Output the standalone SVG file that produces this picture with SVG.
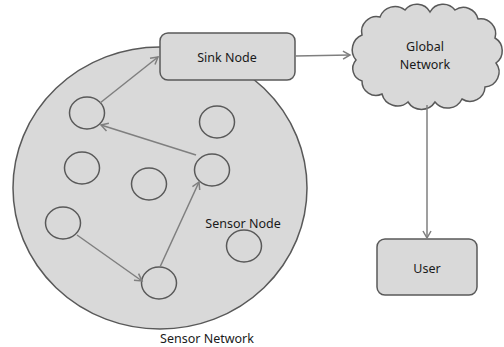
<svg xmlns="http://www.w3.org/2000/svg" width="504" height="347" viewBox="0 0 504 347">
<style>
.shape{fill:#d9d9d9;stroke:#595959;stroke-width:1.5}
.small{fill:none;stroke:#595959;stroke-width:1.5}
.lbl{font-family:"Noto Sans","Open Sans",sans-serif;font-size:12.5px;fill:#1a1a1a;text-anchor:middle;dominant-baseline:central}
.conn{fill:none;stroke:#7f7f7f;stroke-width:1.5;marker-end:url(#arr)}
</style>
<defs>
<marker id="arr" markerUnits="userSpaceOnUse" markerWidth="12" markerHeight="12" refX="8" refY="5" orient="auto">
<path d="M1,1 L8,5 L1,9" fill="none" stroke="#7f7f7f" stroke-width="1.5"/>
</marker>
</defs>
<rect width="504" height="347" fill="#ffffff"/>
<g id="sensor-network">
<ellipse class="shape" cx="160" cy="188" rx="147" ry="141"/>
<text class="lbl" x="207" y="338">Sensor Network</text>
</g>
<g id="sink-node">
<rect class="shape" x="160" y="33" width="135" height="47" rx="8"/>
<text class="lbl" x="227" y="57">Sink Node</text>
</g>
<g id="global-network">
<path class="shape" d="M356,60 A16,16 0 0 1 362,35 A15,15 0 0 1 380,17 A16,16 0 0 1 405,10 A15,15 0 0 1 430,12 A15,15 0 0 1 455,10 A15,15 0 0 1 478,19 A15,15 0 0 1 495,38 A15,15 0 0 1 496,63 A15,15 0 0 1 485,87 A15,15 0 0 1 462,99 A16,16 0 0 1 435,102 A16,16 0 0 1 408,102 A16,16 0 0 1 382,94 A14,14 0 0 1 362,81 A13,13 0 0 1 356,60 Z"/>
<text class="lbl" x="425" y="46">Global</text>
<text class="lbl" x="425" y="64">Network</text>
</g>
<g id="user">
<rect class="shape" x="377" y="239" width="100" height="56" rx="8"/>
<text class="lbl" x="427" y="268">User</text>
</g>
<g id="sensor-nodes">
<ellipse id="n1" class="small" cx="87" cy="113" rx="17.5" ry="16"/>
<ellipse id="n2" class="small" cx="217" cy="122" rx="17.5" ry="16"/>
<ellipse id="n3" class="small" cx="82" cy="168" rx="17.5" ry="16"/>
<ellipse id="n4" class="small" cx="149" cy="184" rx="17.5" ry="16"/>
<ellipse id="n5" class="small" cx="212" cy="170" rx="17.5" ry="16"/>
<ellipse id="n6" class="small" cx="63" cy="223" rx="17.5" ry="16"/>
<ellipse id="n7" class="small" cx="244" cy="246" rx="17.5" ry="16"/>
<ellipse id="n8" class="small" cx="159" cy="283" rx="17.5" ry="16"/>
<text class="lbl" x="243" y="223">Sensor Node</text>
</g>
<g id="connectors">
<line class="conn" x1="100" y1="103" x2="158" y2="57"/>
<line class="conn" x1="196" y1="155" x2="101" y2="125"/>
<line class="conn" x1="77" y1="235" x2="142" y2="281"/>
<line class="conn" x1="160" y1="267" x2="199" y2="182"/>
<line class="conn" x1="295" y1="56" x2="350" y2="55"/>
<line class="conn" x1="427" y1="105" x2="427" y2="238"/>
</g>
</svg>
